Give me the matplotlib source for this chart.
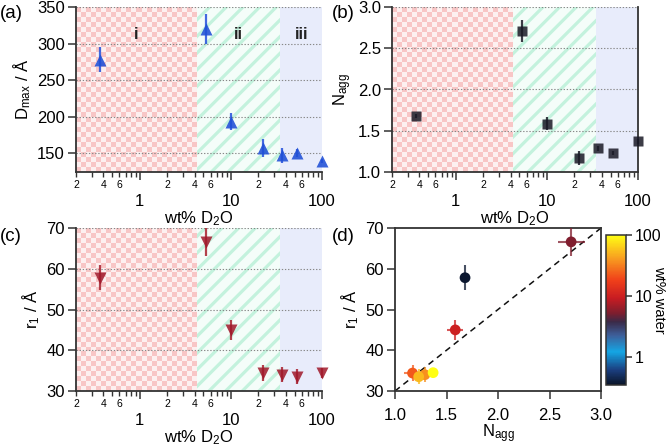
import numpy as np
import matplotlib
matplotlib.use('Agg')
import matplotlib.pyplot as plt
from matplotlib.colors import LinearSegmentedColormap, LogNorm
from matplotlib.ticker import FixedLocator, FuncFormatter, NullLocator

# ---------------- data ----------------
wt = [0.37, 5.4, 10.0, 22.7, 36.6, 53.0, 100.0]
dmax = [278, 320, 193, 157, 147, 150, 139]
dmax_err = [17, 20, 12, 12, 10, 6, 3]
nagg = [1.68, 2.71, 1.585, 1.17, 1.29, 1.23, 1.37]
nagg_err = [0.02, 0.13, 0.08, 0.08, 0.03, 0.02, 0.03]
r1 = [57.8, 66.6, 45.0, 34.4, 34.0, 33.5, 34.5]
r1_err = [3.0, 3.5, 2.5, 2.0, 1.8, 1.8, 1.2]

region_edges = [0.2, 4.2, 35.0, 100.0]
region_labels = ['i', 'ii', 'iii']
x_major = [1, 10, 100]
x_minor = [0.2, 0.3, 0.4, 0.5, 0.6, 0.7, 0.8, 0.9,
           2, 3, 4, 5, 6, 7, 8, 9, 20, 30, 40, 50, 60, 70, 80, 90]
labelled_minor_digits = [2, 4, 6]
dmax_ticks = [150, 200, 250, 300, 350]
nagg_ticks = [1.0, 1.5, 2.0, 2.5, 3.0]
r1_ticks = [30, 40, 50, 60, 70]
cbar_ticks = [1, 10, 100]
ref_line_x = [1.0, 3.0]
ref_line_y = [30.0, 70.0]

# ---------------- style ----------------
plt.rcParams['font.family'] = ['Liberation Sans', 'DejaVu Sans']
plt.rcParams['mathtext.fontset'] = 'custom'
plt.rcParams['mathtext.rm'] = 'Liberation Sans'
plt.rcParams['mathtext.it'] = 'Liberation Sans:italic'
plt.rcParams['hatch.linewidth'] = 2.3

FS = 12
W, H = 666, 448
fig = plt.figure(figsize=(W / 100, H / 100), dpi=100)

SPINE = '#333333'
PINK = np.array([248, 198, 198]) / 255
PINK_L = np.array([253, 240, 240]) / 255

cmap = LinearSegmentedColormap.from_list('wtcmap', [
    (0.00, '#0a1428'), (0.10, '#1b3f80'), (0.22, '#14a6e4'), (0.33, '#3d5f9a'),
    (0.42, '#3a2a48'), (0.48, '#7e1e2e'), (0.58, '#c81c22'), (0.70, '#f0401a'),
    (0.85, '#f8a020'), (1.00, '#ffff14')])
norm = LogNorm(vmin=0.35, vmax=100)


def px_rect(l, t, r, b):
    return [l / W, 1 - b / H, (r - l) / W, (b - t) / H]


def background(rect):
    bg = fig.add_axes(rect, zorder=0)
    bg.set_xlim(0, 1)
    bg.set_ylim(0, 1)
    bg.axis('off')
    lo, hi = np.log10(region_edges[0]), np.log10(region_edges[-1])
    f1 = (np.log10(region_edges[1]) - lo) / (hi - lo)
    f2 = (np.log10(region_edges[2]) - lo) / (hi - lo)
    wpx = rect[2] * W * f1
    hpx = rect[3] * H
    nc, nr = int(round(wpx / 5)), int(round(hpx / 5))
    chk = np.add.outer(np.arange(nr), np.arange(nc)) % 2
    img = np.where(chk[..., None] == 0, PINK, PINK_L)
    bg.imshow(img, extent=[0, f1, 0, 1], aspect='auto', interpolation='nearest')
    bg.axvspan(f1, f2, facecolor='#f4fdf9', edgecolor='#c3f2dd', hatch='//', lw=0)
    bg.axvspan(f2, 1, facecolor='#e8ecfb', lw=0)
    bg.set_xlim(0, 1)
    bg.set_ylim(0, 1)
    return bg


def minor_fmt(v, p):
    e = np.floor(np.log10(v) + 1e-9)
    d = int(round(v / 10 ** e))
    return str(d) if d in labelled_minor_digits else ''


def log_axes(rect, ylim, yticks, ylab, right_spine=False):
    background(rect)
    ax = fig.add_axes(rect, zorder=1)
    ax.patch.set_alpha(0)
    ax.set_xscale('log')
    ax.set_xlim(region_edges[0], region_edges[-1])
    ax.set_ylim(*ylim)
    ax.xaxis.set_major_locator(FixedLocator(x_major))
    ax.xaxis.set_minor_locator(FixedLocator(x_minor))
    ax.xaxis.set_major_formatter(FuncFormatter(lambda v, p: f'{v:g}'))
    ax.xaxis.set_minor_formatter(FuncFormatter(minor_fmt))
    ax.tick_params(axis='x', which='major', direction='out', length=6, width=1.1,
                   pad=10, labelsize=FS, color=SPINE)
    ax.tick_params(axis='x', which='minor', direction='out', length=3.5, width=1.0,
                   pad=2, labelsize=7.5, color=SPINE)
    ax.set_yticks(yticks)
    ax.yaxis.set_minor_locator(NullLocator())
    ax.tick_params(axis='y', direction='out', length=6, width=1.1, pad=2,
                   labelsize=FS, color=SPINE)
    ax.yaxis.grid(True, linestyle=(0, (1.2, 1.6)), color='#888888', lw=0.8)
    for s in ['top', 'right']:
        ax.spines[s].set_visible(False)
    if right_spine:
        ax.spines['right'].set_visible(True)
    for s in ax.spines.values():
        s.set_color(SPINE)
        s.set_linewidth(1.3)
    ax.set_xlabel('wt% D$_2$O', fontsize=FS, labelpad=0)
    ax.set_ylabel(ylab, fontsize=FS, labelpad=3)
    return ax


rect_a = px_rect(76, 7, 322, 172)
rect_b = px_rect(392, 7, 638, 172)
rect_c = px_rect(76, 228, 322, 391)
rect_d = px_rect(395, 228, 601, 391)
rect_cb = px_rect(606, 235, 626, 385)

# (a)
ax_a = log_axes(rect_a, (124, 350), dmax_ticks, 'D$_{\\rm max}$ / Å')
ax_a.errorbar(wt, dmax, yerr=dmax_err, fmt='^', ms=8.5, color='#1f4fd6',
              ecolor='#2a55dd', elinewidth=1.6, capsize=0, alpha=0.88,
              mec='none', zorder=5, clip_on=False)
for i, lab in enumerate(region_labels):
    xc = np.sqrt(region_edges[i] * region_edges[i + 1])
    ax_a.text(xc, 0.835, lab, transform=ax_a.get_xaxis_transform(), ha='center',
              va='center', fontsize=FS, fontweight='bold', color='#222222')

# (b)
ax_b = log_axes(rect_b, (1.0, 3.0), nagg_ticks, 'N$_{\\rm agg}$', right_spine=True)
ax_b.yaxis.set_major_formatter(FuncFormatter(lambda v, p: f'{v:.1f}'))
ax_b.errorbar(wt, nagg, yerr=nagg_err, fmt='s', ms=7, color='#1a1a26',
              ecolor='#1a1a26', elinewidth=1.6, capsize=0, alpha=0.85,
              mec='none', zorder=5, clip_on=False)

# (c)
ax_c = log_axes(rect_c, (30, 70), r1_ticks, 'r$_1$ / Å')
ax_c.errorbar(wt, r1, yerr=r1_err, fmt='v', ms=8.5, color='#a0182a',
              ecolor='#a8202e', elinewidth=1.6, capsize=0, alpha=0.85,
              mec='none', zorder=5, clip_on=False)

# (d)
ax_d = fig.add_axes(rect_d)
ax_d.set_xlim(1.0, 3.0)
ax_d.set_ylim(30, 70)
ax_d.plot(ref_line_x, ref_line_y, linestyle=(0, (4, 3)), color='#111111', lw=1.1, zorder=2)
for w, n, ne, r, re in zip(wt, nagg, nagg_err, r1, r1_err):
    c = cmap(norm(w))
    ax_d.errorbar([n], [r], xerr=[ne], yerr=[re], fmt='none', ecolor=c,
                  elinewidth=1.5, alpha=0.75, capsize=0, zorder=3, clip_on=False)
sc = ax_d.scatter(nagg, r1, c=wt, cmap=cmap, norm=norm, s=60, zorder=4,
                  edgecolors='none', clip_on=False)
ax_d.set_xticks([1.0, 1.5, 2.0, 2.5, 3.0])
ax_d.set_yticks(r1_ticks)
ax_d.xaxis.set_major_formatter(FuncFormatter(lambda v, p: f'{v:.1f}'))
ax_d.tick_params(direction='out', length=6, width=1.1, labelsize=FS, pad=2, color=SPINE)
ax_d.tick_params(axis='x', pad=6)
for s in ax_d.spines.values():
    s.set_color(SPINE)
    s.set_linewidth(1.3)
ax_d.set_xlabel('N$_{\\rm agg}$', fontsize=FS, labelpad=0)
ax_d.set_ylabel('r$_1$ / Å', fontsize=FS, labelpad=3)

cax = fig.add_axes(rect_cb)
cb = fig.colorbar(sc, cax=cax)
cb.set_ticks(cbar_ticks)
cb.set_ticklabels([f'{t:g}' for t in cbar_ticks])
cax.yaxis.set_minor_locator(NullLocator())
cax.tick_params(length=4.5, width=1.1, labelsize=11.5, pad=1.5, color=SPINE)
cb.outline.set_color(SPINE)
cb.outline.set_linewidth(1.1)
fig.text(659.5 / W, 1 - 300 / H, 'wt% water', rotation=270, fontsize=10.5,
         ha='center', va='center')

# panel letters
for lab, (x, y) in zip(['(a)', '(b)', '(c)', '(d)'],
                       [(0, 14), (332, 14), (0, 236), (332, 236)]):
    fig.text(x / W, 1 - y / H, lab, fontsize=13.5, ha='left', va='center')

fig.savefig('out.png', dpi=100)
